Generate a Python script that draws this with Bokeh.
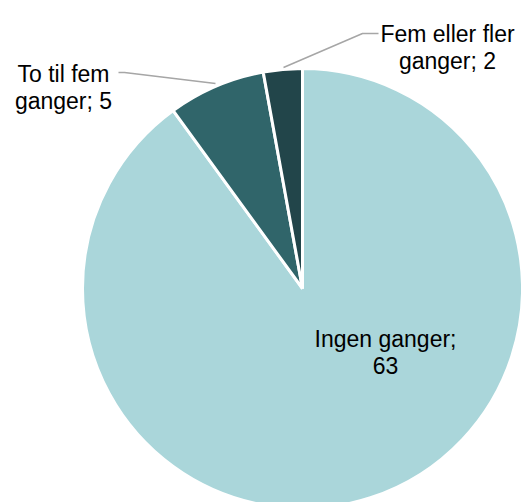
import numpy as np
from bokeh.plotting import figure
from bokeh.models import Range1d, ColumnDataSource
from bokeh.core.properties import value
from bokeh.embed import file_html
from bokeh.resources import INLINE

categories = ["Ingen ganger", "To til fem ganger", "Fem eller fler ganger"]
values = [63, 5, 2]
colors = ["#AAD6DA", "#30656A", "#22454A"]
label_lines = [["Ingen ganger;", "63"], ["To til fem", "ganger; 5"], ["Fem eller fler", "ganger; 2"]]

W, H = 521, 502
p = figure(width=W, height=H, output_backend="svg", toolbar_location=None,
           x_range=Range1d(0, W), y_range=Range1d(0, H), min_border=0)
p.axis.visible = False
p.grid.visible = False
p.outline_line_color = None
p.background_fill_color = "white"
p.border_fill_color = "white"

def S(sx, sy):
    # screen pixel -> data coords
    return sx, H - sy

cx, cy = S(302, 288)
R = 220
vals = np.array(values, dtype=float)
frac = vals / vals.sum()
cum = np.concatenate([[0], np.cumsum(frac)])
start = np.pi / 2 - 2 * np.pi * cum[:-1]
end = np.pi / 2 - 2 * np.pi * cum[1:]
src = ColumnDataSource(dict(start=start, end=end, color=colors, cat=categories))
p.wedge(x=cx, y=cy, radius=R, start_angle="start", end_angle="end", direction="clock",
        fill_color="color", line_color="white", line_width=3, source=src)

# leader lines
x1, y1 = S(118, 72); x2, y2 = S(215, 83)
p.line([x1, x1 + 6, x2], [y1, y1, y2], line_color="#A6A6A6", line_width=1.5)
a1, b1 = S(283, 67); a2, b2 = S(362, 33); a3, b3 = S(378, 33)
p.line([a1, a2, a3], [b1, b2, b3], line_color="#A6A6A6", line_width=1.5)

label_pos = [(385, 338), (63, 73), (447, 33)]
lh = 27
for (sx, sy), lines in zip(label_pos, label_lines):
    for i, t in enumerate(lines):
        x, y = S(sx, sy + i * lh)
        p.text(x=[x], y=[y], text=[t], text_align="center", text_baseline="alphabetic",
               text_font=value("Liberation Sans"), text_font_size="23px", text_color="#000000")

open("out.html", "w").write(file_html(p, INLINE))
